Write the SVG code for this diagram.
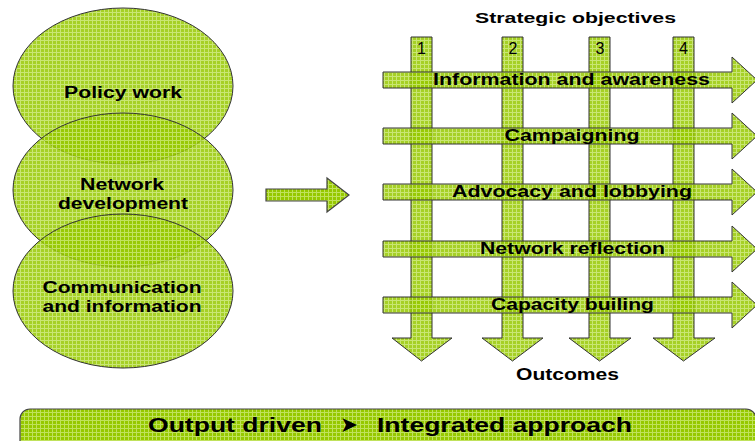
<svg xmlns="http://www.w3.org/2000/svg" width="755" height="441" viewBox="0 0 755 441">
<defs>
<pattern id="hatch" width="4" height="4" patternUnits="userSpaceOnUse">
<rect width="4" height="4" fill="#96c800"/>
<path d="M0 0.5H4M0.5 0V4" stroke="#c0e25c" stroke-width="1"/>
</pattern>
</defs>
<style>
.shape{fill:url(#hatch);fill-opacity:0.85;stroke:#333;stroke-width:1}
.solid{fill:url(#hatch);stroke:#444;stroke-width:1.2}
.lbl{font-family:"Liberation Sans",Arial,sans-serif;font-weight:bold;fill:#000;text-anchor:middle}
.num{font-family:"Liberation Sans",Arial,sans-serif;font-size:16px;fill:#000;text-anchor:middle}
</style>
<rect width="755" height="441" fill="#fff"/>

<g id="circles">
<g id="policy-work">
<ellipse class="shape" cx="123" cy="86" rx="110" ry="78"/>
</g>
<g id="network-development">
<ellipse class="shape" cx="123" cy="190" rx="110" ry="77"/>
</g>
<g id="communication-information">
<ellipse class="shape" cx="123" cy="291" rx="110" ry="77"/>
</g>
<text class="lbl" x="123" y="98" font-size="16" textLength="118" lengthAdjust="spacingAndGlyphs">Policy work</text>
<text class="lbl" x="122" y="190" font-size="16" textLength="84" lengthAdjust="spacingAndGlyphs">Network</text>
<text class="lbl" x="123" y="209" font-size="16" textLength="130" lengthAdjust="spacingAndGlyphs">development</text>
<text class="lbl" x="122" y="293" font-size="16" textLength="159" lengthAdjust="spacingAndGlyphs">Communication</text>
<text class="lbl" x="122" y="312" font-size="16" textLength="159" lengthAdjust="spacingAndGlyphs">and information</text>
</g>

<g id="connectors">
<path class="solid" d="M266,189H327V178L349,195L327,212V201H266Z"/>
</g>

<g id="objectives">
<g id="objective-1"><path class="shape" d="M411,37H432V338H452L421.5,361L392,338H411Z"/></g>
<g id="objective-2"><path class="shape" d="M502,37H523V338H543L512.5,361L482,338H502Z"/></g>
<g id="objective-3"><path class="shape" d="M589,37H610V338H631L599.5,361L569,338H589Z"/></g>
<g id="objective-4"><path class="shape" d="M673,37H694V338H715L683.5,361L653,338H673Z"/></g>
<text class="num" x="421.5" y="54">1</text>
<text class="num" x="513" y="54">2</text>
<text class="num" x="600" y="54">3</text>
<text class="num" x="683.5" y="54">4</text>
</g>

<g id="activities">
<g id="information-awareness"><path class="shape" d="M383,72H732V57L757,80L732,103V88H383Z"/></g>
<g id="campaigning"><path class="shape" d="M383,128H732V113L757,136L732,159V144H383Z"/></g>
<g id="advocacy-lobbying"><path class="shape" d="M383,184H732V169L757,192L732,215V200H383Z"/></g>
<g id="network-reflection"><path class="shape" d="M383,241H732V226L757,249L732,272V257H383Z"/></g>
<g id="capacity-building"><path class="shape" d="M383,297H732V282L757,305L732,328V313H383Z"/></g>
<text class="lbl" x="571.5" y="85" font-size="17" textLength="277" lengthAdjust="spacingAndGlyphs">Information and awareness</text>
<text class="lbl" x="572" y="141" font-size="17" textLength="135" lengthAdjust="spacingAndGlyphs">Campaigning</text>
<text class="lbl" x="572" y="197" font-size="17" textLength="240" lengthAdjust="spacingAndGlyphs">Advocacy and lobbying</text>
<text class="lbl" x="572.5" y="254" font-size="17" textLength="185" lengthAdjust="spacingAndGlyphs">Network reflection</text>
<text class="lbl" x="572.5" y="310" font-size="17" textLength="163" lengthAdjust="spacingAndGlyphs">Capacity builing</text>
</g>

<text class="lbl" x="575.5" y="23" font-size="15" textLength="201" lengthAdjust="spacingAndGlyphs">Strategic objectives</text>
<text class="lbl" x="567.5" y="380" font-size="16" textLength="103" lengthAdjust="spacingAndGlyphs">Outcomes</text>

<g id="approach-bar">
<rect class="solid" x="20" y="409" width="736" height="45" rx="10" ry="10"/>
<text class="lbl" x="235" y="432" font-size="21" textLength="174" lengthAdjust="spacingAndGlyphs">Output driven</text>
<text x="349" y="432" font-family="DejaVu Sans,sans-serif" font-size="22" text-anchor="middle" fill="#000" textLength="18" lengthAdjust="spacingAndGlyphs">➤</text>
<text class="lbl" x="504.5" y="432" font-size="21" textLength="255" lengthAdjust="spacingAndGlyphs">Integrated approach</text>
</g>
</svg>
